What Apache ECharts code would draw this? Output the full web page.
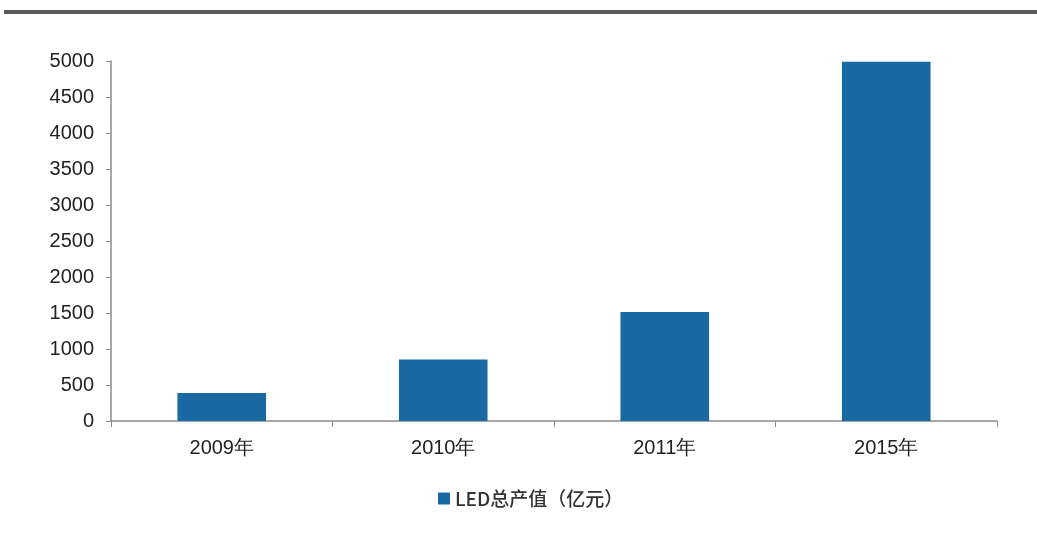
<!DOCTYPE html>
<html><head><meta charset="utf-8">
<script src="https://cdn.jsdelivr.net/npm/echarts@6/dist/echarts.min.js"></script>
<style>html,body{margin:0;padding:0;background:#fff}#c{width:1037px;height:558px}</style>
</head><body><div id="c"></div>
<script>
const categories = ['2009年', '2010年', '2011年', '2015年'];
const seriesName = 'LED总产值（亿元）';
const values = [390, 855, 1515, 4990];
const yTicks = { min: 0, max: 5000, interval: 500 };

const chart = echarts.init(document.getElementById('c'));
chart.setOption({
  animation: false,
  backgroundColor: '#fff',
  graphic: [{
    type: 'rect', left: 4, top: 10,
    shape: { width: 1033, height: 4 },
    style: { fill: '#5a5a5a' }
  }],
  grid: { left: 111, right: 40, top: 61, bottom: 137 },
  legend: {
    data: [seriesName], left: 433, top: 484,
    itemWidth: 12, itemHeight: 12, icon: 'rect',
    textStyle: { fontFamily: 'Noto Sans CJK SC', fontSize: 19, color: '#333', fontWeight: 500 }
  },
  xAxis: {
    type: 'category', data: categories,
    axisLine: { lineStyle: { color: '#8c8c8c', width: 1.5 } },
    axisTick: { show: true, length: 6, lineStyle: { color: '#8c8c8c' } },
    axisLabel: { fontFamily: 'Liberation Sans', fontSize: 20, color: '#222', margin: 17 }
  },
  yAxis: {
    type: 'value', min: yTicks.min, max: yTicks.max, interval: yTicks.interval,
    splitLine: { show: false },
    axisLine: { show: true, lineStyle: { color: '#8c8c8c', width: 1.5 } },
    axisTick: { show: true, length: 5, lineStyle: { color: '#8c8c8c' } },
    axisLabel: { fontFamily: 'Liberation Sans', fontSize: 20, color: '#222', margin: 17,
      formatter: v => String(v) }
  },
  series: [{
    name: seriesName, type: 'bar', data: values,
    barWidth: '40%',
    itemStyle: { color: '#1b69a3' }
  }]
});
</script></body></html>
